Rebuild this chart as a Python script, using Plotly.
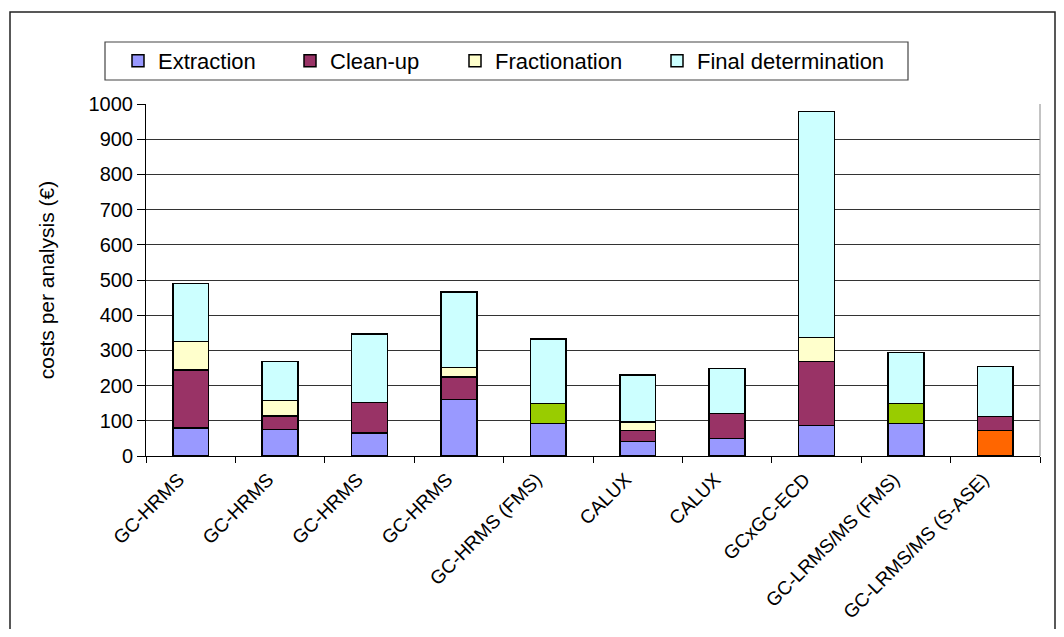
import plotly.graph_objects as go

categories = ["GC-HRMS", "GC-HRMS", "GC-HRMS", "GC-HRMS", "GC-HRMS (FMS)",
              "CALUX", "CALUX", "GCxGC-ECD", "GC-LRMS/MS (FMS)", "GC-LRMS/MS (S-ASE)"]
extraction = [79, 76, 65, 160, 93, 41, 50, 86, 93, 73]
clean_up = [165, 38, 87, 64, 56, 31, 71, 182, 56, 39]
fractionation = [82, 43, None, 28, None, 25, None, 68, None, None]
final_determination = [164, 112, 195, 214, 183, 133, 127, 643, 145, 142]

extraction_colors = ["#9999FF"] * 9 + ["#FF6600"]
clean_up_colors = ["#993366", "#993366", "#993366", "#993366", "#99CC00",
                   "#993366", "#993366", "#993366", "#99CC00", "#993366"]

x = list(range(len(categories)))
FONT = "Liberation Sans, Arial, sans-serif"

# page body has an 8px margin; figure sized so the page fits the window exactly
OFF = 8
PL, PR, PT, PB = 146, 1040, 104, 456   # plot area in screen pixels
W, H = 1064 - 2 * OFF, 637 - 2 * OFF


def px(xs):
    return (xs - PL) / (PR - PL)


def py(ys):
    return (PB - ys) / (PB - PT)


fig = go.Figure()
series = [
    ("Extraction", extraction, extraction_colors, "legend", 118),
    ("Clean-up", clean_up, clean_up_colors, "legend2", 290),
    ("Fractionation", fractionation, "#FFFFCC", "legend3", 455),
    ("Final determination", final_determination, "#CCFFFF", "legend4", 657),
]
for name, vals, cols, leg, _ in series:
    fig.add_trace(go.Bar(
        x=x, y=vals, name=name, width=0.4,
        marker=dict(color=cols, line=dict(color="#000000", width=1.5)),
        legend=leg,
    ))

leg_layout = {}
for name, vals, cols, leg, lx in series:
    leg_layout[leg] = dict(
        x=px(lx), y=py(61), xanchor="left", yanchor="middle",
        orientation="h", bgcolor="rgba(0,0,0,0)", borderwidth=0,
        font=dict(family=FONT, size=22, color="#000000"),
    )
fig.update_layout(**leg_layout)

fig.update_layout(
    width=W, height=H,
    margin=dict(l=PL - OFF, r=W - (PR - OFF), t=PT - OFF, b=H - (PB - OFF),
                autoexpand=False),
    barmode="stack",
    plot_bgcolor="#FFFFFF", paper_bgcolor="#FFFFFF",
    font=dict(family=FONT, size=20, color="#000000"),
    showlegend=True,
    xaxis=dict(
        range=[-0.5, 9.5], tickmode="array", tickvals=x, ticktext=categories,
        tickangle=-45, ticks="", showgrid=False, zeroline=False, automargin=False,
        showline=True, linecolor="#000000", linewidth=1,
        tickfont=dict(family=FONT, size=19, color="#000000"),
        ticklabelstandoff=4, ticklabelshift=-12,
        minor=dict(tickmode="array", tickvals=[i - 0.5 for i in range(11)],
                   ticks="outside", ticklen=6, tickcolor="#000000", showgrid=False),
    ),
    yaxis=dict(
        range=[0, 1000], dtick=100, ticks="outside", ticklen=8, tickcolor="#000000",
        showline=True, linecolor="#000000", linewidth=1, automargin=False,
        showgrid=True, gridcolor="#333333", gridwidth=1, zeroline=False,
        tickfont=dict(family=FONT, size=20, color="#000000"),
        title=dict(text="costs per analysis (€)", font=dict(family=FONT, size=21, color="#000000"),
                   standoff=28),
    ),
    shapes=[
        dict(type="rect", xref="paper", yref="paper",
             x0=px(10), x1=px(1055), y0=py(680), y1=py(12),
             line=dict(color="#222222", width=1.5), fillcolor="rgba(0,0,0,0)", layer="below"),
        dict(type="rect", xref="paper", yref="paper",
             x0=px(105), x1=px(908), y0=py(80), y1=py(42),
             line=dict(color="#444444", width=1.2), fillcolor="rgba(0,0,0,0)", layer="below"),
        dict(type="line", xref="paper", yref="paper", x0=1, x1=1, y0=0, y1=1,
             line=dict(color="#888888", width=1)),
    ],
)

fig.write_html("out.html")
